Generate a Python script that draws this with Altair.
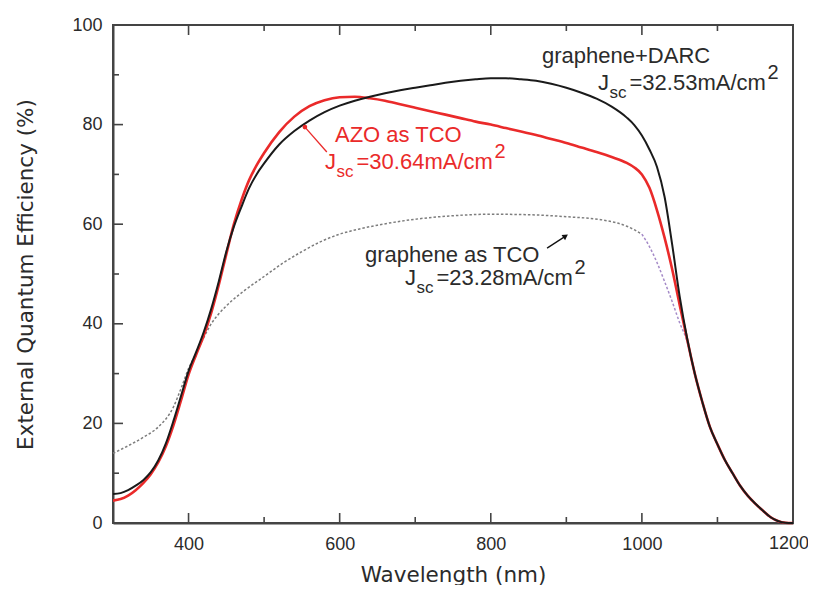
import altair as alt
import pandas as pd

FONT = "Liberation Sans, Arial, sans-serif"
FONT2 = "DejaVu Sans, sans-serif"

# ---------------- data ----------------
wl_grid = [300, 310, 320, 330, 340, 350, 360, 370, 380, 390, 400, 410, 420, 430, 440, 450,
           460, 470, 480, 490, 500,
           520, 540, 560, 580, 600, 620, 640, 660, 680, 700, 720, 740, 760, 780, 800, 820,
           840, 860, 880, 900, 920, 940, 960, 980,
           990, 1000, 1010, 1020, 1030, 1040, 1050, 1060, 1070, 1080, 1090, 1100, 1110,
           1120, 1130, 1140, 1150, 1160, 1170, 1180, 1190, 1200]

eqe_darc = [5.8, 6.0, 6.6, 7.5, 8.6, 10.2, 12.6, 16.0, 20.5, 25.5, 30.5, 34.3, 38.3, 43.0,
            48.5, 54.5, 59.5, 63.5, 67.2, 70.0, 72.2,
            76.0, 78.7, 80.8, 82.5, 83.8, 84.8, 85.6, 86.3, 86.9, 87.4, 87.9, 88.4, 88.8,
            89.1, 89.3, 89.3, 89.1, 88.8, 88.2, 87.4, 86.4, 85.2, 83.6, 81.4,
            79.9, 77.8, 75.0, 71.5, 65.5, 56.0, 45.5, 37.0, 30.0, 24.3, 19.3, 15.8, 12.6,
            10.0, 7.5, 5.5, 3.9, 2.5, 1.2, 0.4, 0.05, 0.0]

eqe_azo = [4.5, 4.8, 5.5, 6.6, 8.0, 9.8, 12.2, 15.4, 19.6, 24.6, 29.8, 33.8, 37.6, 42.2,
           47.8, 54.0, 60.0, 64.8, 68.8, 71.8, 74.3,
           78.5, 81.6, 83.7, 84.9, 85.5, 85.6, 85.3, 84.8, 84.1, 83.4, 82.7, 82.0, 81.3,
           80.6, 80.0, 79.3, 78.6, 77.9, 77.1, 76.3, 75.4, 74.5, 73.5, 72.3,
           71.4, 70.0, 67.3, 62.8, 57.3, 51.0, 43.8, 36.8, 30.0, 24.3, 19.3, 15.8, 12.6,
           10.0, 7.5, 5.5, 3.9, 2.5, 1.2, 0.4, 0.05, 0.0]

wl_gr = [300, 320, 340, 360, 380, 390, 400, 410, 420, 430, 440, 450, 475, 500, 525, 550,
         575, 600, 625, 650, 700, 750, 800, 850, 900, 950, 980, 1000,
         1010, 1020, 1030, 1040, 1050, 1060, 1070, 1080, 1090, 1100, 1110, 1120, 1130,
         1140, 1150, 1160, 1170, 1180, 1190, 1200]
eqe_gr = [14.0, 15.5, 17.2, 19.3, 23.3, 27.0, 31.0, 34.0, 37.2, 40.0, 42.0, 43.6, 46.8,
          49.5, 52.2, 54.5, 56.5, 58.0, 59.0, 59.8, 61.0, 61.7, 62.0, 61.9, 61.5, 60.8,
          59.6, 58.0,
          55.5, 52.3, 48.5, 44.5, 40.2, 36.4, 29.8, 24.2, 19.2, 15.7, 12.5, 9.9, 7.4,
          5.4, 3.8, 2.4, 1.1, 0.3, 0.0, 0.0]

x_major = [400, 600, 800, 1000]
x_minor = [500, 700, 900, 1100]
y_major = [20, 40, 60, 80]
y_minor = [10, 30, 50, 70, 90]
x_labels = [400, 600, 800, 1000]
x_last_label = 1200
y_labels = [0, 20, 40, 60, 80, 100]

# ---------------- chart ----------------
W, H = 680, 498
AX = "#444444"
TXT = "#2b2b2b"
RED = "#ea2a2a"

xs = alt.Scale(domain=[300, 1200], nice=False, zero=False)
ys = alt.Scale(domain=[0, 100], nice=False, zero=False)

x_axis = alt.Axis(values=x_labels, format="d", ticks=False, tickSize=0, grid=False,
                  labelPadding=12, labelFontSize=18, labelFont=FONT, labelColor=TXT,
                  labelFlush=False, labelOverlap=False,
                  domainColor=AX, domainWidth=2,
                  title="Wavelength (nm)", titleFont=FONT2, titleFontSize=21.5,
                  titleFontWeight="normal", titleColor=TXT,
                  titleX=W / 2, titleY=58, titleBaseline="alphabetic", titleAlign="center")
y_axis = alt.Axis(values=y_labels, format="d", ticks=False, tickSize=0, grid=False,
                  labelPadding=11, labelFontSize=18, labelFont=FONT, labelColor=TXT,
                  labelFlush=False, labelOverlap=False,
                  domainColor=AX, domainWidth=2,
                  title="External Quantum Efficiency (%)", titleFont=FONT2, titleFontSize=21.5,
                  titleFontWeight="normal", titleColor=TXT, titleAngle=270,
                  titleX=-81, titleY=H / 2, titleBaseline="alphabetic", titleAlign="center")


def X(field="wl"):
    return alt.X(f"{field}:Q", scale=xs, axis=x_axis)


def Y(field="eqe"):
    return alt.Y(f"{field}:Q", scale=ys, axis=y_axis)


df_darc = pd.DataFrame({"wl": wl_grid, "eqe": eqe_darc})
df_azo = pd.DataFrame({"wl": wl_grid, "eqe": eqe_azo})
df_gr = pd.DataFrame({"wl": wl_gr, "eqe": eqe_gr})
df_gr_a = df_gr[df_gr.wl <= 1000]
df_gr_b = df_gr[df_gr.wl >= 1000]


def line(df, color, width, dash=None):
    kw = dict(color=color, strokeWidth=width, interpolate="monotone")
    if dash:
        kw["strokeDash"] = dash
    return alt.Chart(df).mark_line(**kw).encode(x=X(), y=Y())


gray_a = line(df_gr_a, "#7d7d7d", 1.5, [2.5, 2])
gray_b = line(df_gr_b, "#a58bc8", 1.5, [2.5, 2])
red_l = line(df_azo, RED, 2.6)
black_l = line(df_darc, "#1a1a1a", 2)


def xticks(vals, length, top):
    d = pd.DataFrame({"wl": vals})
    if top:
        yv, y2v = 0, length
    else:
        yv, y2v = H, H - length
    return alt.Chart(d).mark_rule(color=AX, strokeWidth=1.6).encode(
        x=X(), y=alt.value(yv), y2=alt.value(y2v))


def yticks(vals, length):
    d = pd.DataFrame({"eqe": vals})
    return alt.Chart(d).mark_rule(color=AX, strokeWidth=1.6).encode(
        y=Y(), x=alt.value(0), x2=alt.value(length))


ticks = [xticks(x_major, 10, False), xticks(x_minor, 6, False),
         xticks(x_major, 10, True), xticks(x_minor, 6, True),
         yticks(y_major, 10), yticks(y_minor, 6)]

# last x tick label, nudged slightly left so it stays inside the page
last_lbl = alt.Chart(pd.DataFrame({"wl": [x_last_label], "eqe": [0], "t": [str(x_last_label)]})
                     ).mark_text(align="center", baseline="top", font=FONT, fontSize=18,
                                 color=TXT, dx=-4, dy=12).encode(x=X(), y=Y(), text="t:N")


def label(x, y, text, size=22, color=TXT, dx=0, dy=0):
    d = pd.DataFrame({"wl": [x], "eqe": [y], "t": [text]})
    return alt.Chart(d).mark_text(align="left", baseline="alphabetic", font=FONT,
                                  fontSize=size, color=color, dx=dx, dy=dy).encode(
        x=X(), y=Y(), text="t:N")


def jsc(xj, yb, value, color=TXT):
    # J, subscript "sc", "=value mA/cm", superscript "2" (offsets in pixels)
    return [
        label(xj, yb, "J", 22, color),
        label(xj, yb, "sc", 17, color, dx=11.5, dy=8),
        label(xj, yb, "=" + value + "mA/cm", 22, color, dx=31.5),
        label(xj, yb, "2", 20, color, dx=169.5, dy=-11),
    ]


texts = [
    label(867.8, 92.4, "graphene+DARC"),
    *jsc(941.9, 86.95, "32.53"),
    label(593.8, 76.5, "AZO as TCO", color=RED),
    *jsc(580.6, 71.1, "30.64", RED),
    label(633.5, 52.4, "graphene as TCO"),
    *jsc(686.5, 47.8, "23.28"),
]

# leader lines / arrows
red_lead = alt.Chart(pd.DataFrame({"wl": [554], "eqe": [79.5], "wl2": [583], "eqe2": [74.5]})
                     ).mark_rule(color=RED, strokeWidth=1.3).encode(
    x=X(), y=Y(), x2="wl2:Q", y2="eqe2:Q")
red_dot = alt.Chart(pd.DataFrame({"wl": [554], "eqe": [79.5]})).mark_point(
    filled=True, color=RED, size=22, opacity=1).encode(x=X(), y=Y())
blk_lead = alt.Chart(pd.DataFrame({"wl": [874.5], "eqe": [55.2], "wl2": [899], "eqe2": [57.6]})
                     ).mark_rule(color="#111", strokeWidth=1.3).encode(
    x=X(), y=Y(), x2="wl2:Q", y2="eqe2:Q")
blk_head = alt.Chart(pd.DataFrame({"wl": [898], "eqe": [57.5]})).mark_point(
    shape="triangle", filled=True, color="#111", size=40, angle=56, opacity=1).encode(
    x=X(), y=Y())

chart = alt.layer(
    gray_a, gray_b, red_l, black_l, *ticks, last_lbl, red_lead, red_dot, blk_lead, blk_head,
    *texts
).properties(
    width=W, height=H,
    autosize=alt.AutoSizeParams(type="none"),
    padding={"left": 105, "top": 17, "right": 15, "bottom": 62},
    background="white",
).configure_view(stroke=AX, strokeWidth=2)

chart.save("out.html", embed_options={"renderer": "svg", "actions": False})
